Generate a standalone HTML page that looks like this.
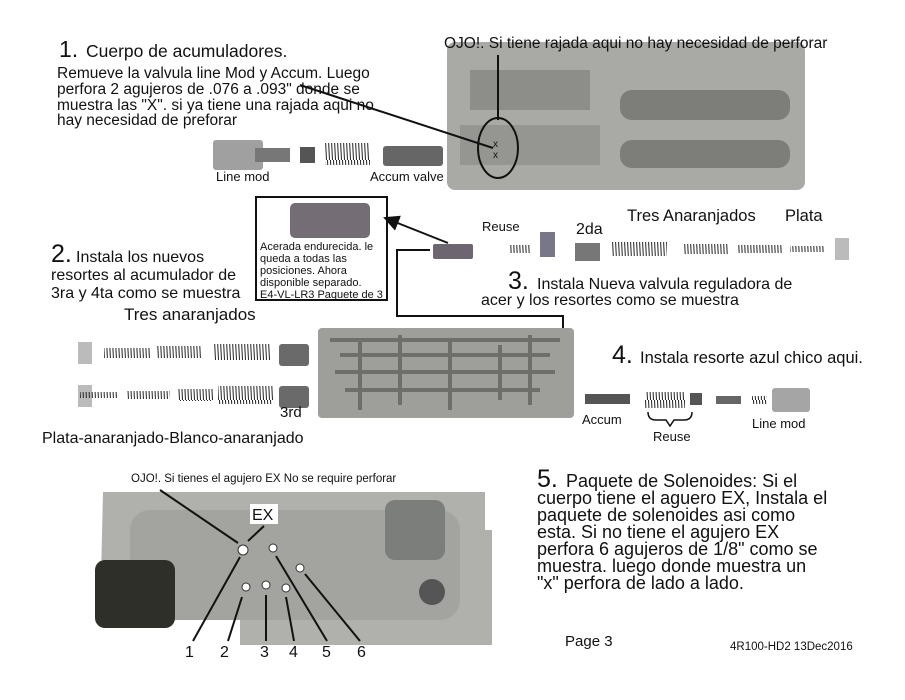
<!DOCTYPE html>
<html><head><meta charset="utf-8"><style>
html,body{margin:0;padding:0;background:#fff}
svg{display:block}
text{font-family:"Liberation Sans",sans-serif;fill:#111}
</style></head><body>
<svg width="905" height="700" viewBox="0 0 905 700">
<defs><marker id="a" markerWidth="8" markerHeight="8" refX="7" refY="4" orient="auto"><path d="M0,0 L8,4 L0,8z" fill="#111"/></marker>
<pattern id="sp" width="3" height="40" patternUnits="userSpaceOnUse"><line x1="0.5" y1="0" x2="2.5" y2="40" stroke="#222" stroke-width="1"/></pattern></defs>
<!-- top plate -->
<rect x="447" y="42" width="358" height="148" rx="8" fill="#a9a9a6"/>
<rect x="470" y="70" width="120" height="40" fill="#8d8d8a"/>
<rect x="620" y="90" width="170" height="30" rx="12" fill="#7d7d7a"/>
<rect x="620" y="140" width="170" height="28" rx="12" fill="#7d7d7a"/>
<rect x="460" y="125" width="140" height="40" fill="#959592"/>
<ellipse cx="498" cy="148" rx="20" ry="30" fill="none" stroke="#111" stroke-width="2"/>
<text x="493" y="147" font-size="10">x</text><text x="493" y="158" font-size="10">x</text>
<line x1="300" y1="85" x2="493" y2="148" stroke="#111" stroke-width="2"/>
<line x1="498" y1="55" x2="498" y2="120" stroke="#111" stroke-width="2"/>
<!-- top parts row -->
<rect x="213" y="140" width="50" height="30" rx="3" fill="#a0a0a0"/>
<rect x="255" y="148" width="35" height="14" fill="#777"/>
<rect x="300" y="147" width="15" height="16" fill="#555"/>
<rect x="325" y="143" width="45" height="22" fill="url(#sp)"/>
<rect x="383" y="146" width="60" height="20" rx="3" fill="#666"/>
<text x="216" y="181" font-size="13">Line mod</text>
<text x="370" y="181" font-size="13">Accum valve</text>
<text x="59" y="57" font-size="23">1.</text><text x="86" y="57" font-size="17.5">Cuerpo de acumuladores.</text>
<g font-size="15.5"><text x="57" y="78">Remueve la valvula line Mod y Accum.  Luego</text>
<text x="57" y="94">perfora 2 agujeros de .076 a .093" donde se</text>
<text x="57" y="110">muestra las "X".  si ya tiene una rajada aqui no</text>
<text x="57" y="125">hay necesidad de preforar</text></g>
<text x="444" y="48" font-size="15.5">OJO!. Si tiene rajada aqui no hay necesidad de perforar</text>
<!-- box -->
<rect x="256" y="197" width="131" height="103" fill="#fff" stroke="#111" stroke-width="2"/>
<rect x="290" y="203" width="80" height="35" rx="5" fill="#756d75"/>
<g font-size="11"><text x="260" y="250">Acerada endurecida. le</text>
<text x="260" y="262">queda a todas las</text>
<text x="260" y="274">posiciones. Ahora</text>
<text x="260" y="286">disponible separado.</text>
<text x="260" y="298">E4-VL-LR3 Paquete de 3</text></g>
<line x1="448" y1="243" x2="385" y2="218" stroke="#111" stroke-width="2" marker-end="url(#a)"/>
<rect x="433" y="244" width="40" height="15" rx="2" fill="#6d6570"/>
<polyline points="430,250 397,250 397,316 563,316 563,362 543,362" fill="none" stroke="#111" stroke-width="2" marker-end="url(#a)"/>
<text x="482" y="231" font-size="13">Reuse</text>
<rect x="510" y="245" width="20" height="8" fill="url(#sp)"/>
<rect x="540" y="232" width="15" height="25" fill="#778"/>
<rect x="575" y="243" width="25" height="18" fill="#777"/>
<text x="576" y="234" font-size="16">2da</text>
<text x="627" y="221" font-size="16.5">Tres Anaranjados</text>
<text x="785" y="221" font-size="16.5">Plata</text>
<rect x="612" y="242" width="55" height="14" fill="url(#sp)"/>
<rect x="683" y="244" width="45" height="10" fill="url(#sp)"/>
<rect x="737" y="245" width="45" height="8" fill="url(#sp)"/>
<rect x="790" y="246" width="35" height="6" fill="url(#sp)"/>
<rect x="835" y="238" width="14" height="22" fill="#bbb"/>
<text x="508" y="289" font-size="25">3.</text><text x="537" y="289" font-size="16">Instala Nueva valvula reguladora de</text>
<text x="481" y="305" font-size="16">acer y los resortes como se muestra</text>
<!-- 2 -->
<text x="51" y="262" font-size="25">2.</text><text x="76" y="262" font-size="16">Instala los nuevos</text>
<text x="51" y="280" font-size="16">resortes al acumulador de</text>
<text x="51" y="298" font-size="16">3ra y 4ta como se muestra</text>
<text x="124" y="320" font-size="17">Tres anaranjados</text>
<rect x="104" y="348" width="46" height="10" fill="url(#sp)"/>
<rect x="157" y="346" width="45" height="12" fill="url(#sp)"/>
<rect x="213" y="344" width="58" height="16" fill="url(#sp)"/>
<rect x="279" y="344" width="30" height="22" rx="3" fill="#6a6a6a"/>
<rect x="78" y="342" width="14" height="22" fill="#bbb"/>
<rect x="78" y="385" width="14" height="22" fill="#bbb"/>
<rect x="80" y="392" width="38" height="6" fill="url(#sp)"/>
<rect x="126" y="391" width="44" height="8" fill="url(#sp)"/>
<rect x="178" y="389" width="35" height="12" fill="url(#sp)"/>
<rect x="218" y="386" width="55" height="18" fill="url(#sp)"/>
<rect x="279" y="386" width="30" height="22" rx="3" fill="#6a6a6a"/>
<text x="280" y="417" font-size="15">3rd</text>
<text x="42" y="443" font-size="16">Plata-anaranjado-Blanco-anaranjado</text>
<!-- middle plate -->
<rect x="318" y="328" width="256" height="90" rx="4" fill="#9e9e9b"/>
<path d="M330,340 H560 M340,355 H550 M335,372 H555 M345,390 H540 M360,340 V410 M400,335 V405 M450,340 V410 M500,345 V400 M530,335 V405" stroke="#6e6e6b" stroke-width="4" fill="none"/>
<text x="612" y="363" font-size="25">4.</text><text x="640" y="363" font-size="16.5">Instala resorte azul chico aqui.</text>
<rect x="585" y="394" width="45" height="10" fill="#555"/>
<text x="582" y="424" font-size="13">Accum</text>
<rect x="645" y="392" width="40" height="16" fill="url(#sp)"/>
<rect x="690" y="393" width="12" height="12" fill="#555"/>
<rect x="716" y="396" width="25" height="8" fill="#666"/>
<rect x="752" y="396" width="15" height="8" fill="url(#sp)"/>
<rect x="772" y="388" width="38" height="24" rx="3" fill="#a5a5a5"/>
<path d="M648,412 q0,8 8,8 h10 l4,6 l4,-6 h10 q8,0 8,-8" fill="none" stroke="#111" stroke-width="1.5"/>
<text x="653" y="441" font-size="13">Reuse</text>
<text x="752" y="428" font-size="13">Line mod</text>
<!-- bottom plate -->
<path d="M103,492 H485 V530 H492 V645 H240 V620 H100 Z" fill="#b0b0ad"/>
<rect x="130" y="510" width="330" height="110" rx="20" fill="#a3a3a0"/>
<rect x="385" y="500" width="60" height="60" rx="10" fill="#7c7e7b"/>
<circle cx="432" cy="592" r="13" fill="#555"/>
<rect x="95" y="560" width="80" height="68" rx="10" fill="#2f2f2a"/>
<g fill="#fff" stroke="#333"><circle cx="243" cy="550" r="5"/><circle cx="273" cy="548" r="4"/><circle cx="300" cy="568" r="4"/><circle cx="246" cy="587" r="4"/><circle cx="266" cy="585" r="4"/><circle cx="286" cy="588" r="4"/></g>
<rect x="250" y="504" width="28" height="20" fill="#fff"/>
<text x="252" y="520" font-size="16">EX</text>
<text x="131" y="482" font-size="11.5">OJO!. Si tienes  el agujero EX No se require perforar</text>
<g stroke="#111" stroke-width="2"><line x1="160" y1="490" x2="238" y2="543"/><line x1="264" y1="526" x2="248" y2="541"/><line x1="240" y1="557" x2="193" y2="641"/><line x1="242" y1="597" x2="228" y2="641"/><line x1="266" y1="595" x2="266" y2="641"/><line x1="286" y1="597" x2="294" y2="641"/><line x1="276" y1="556" x2="327" y2="641"/><line x1="305" y1="574" x2="360" y2="641"/></g>
<g font-size="16"><text x="185" y="657">1</text><text x="220" y="657">2</text><text x="260" y="657">3</text><text x="289" y="657">4</text><text x="322" y="657">5</text><text x="357" y="657">6</text></g>
<text x="537" y="487" font-size="25">5.</text><text x="566" y="487" font-size="18">Paquete de Solenoides: Si el</text>
<g font-size="18"><text x="537" y="504">cuerpo tiene el aguero EX, Instala el</text><text x="537" y="521">paquete de solenoides asi como</text><text x="537" y="538">esta.  Si no tiene el agujero EX</text><text x="537" y="555">perfora 6 agujeros de 1/8" como se</text><text x="537" y="572">muestra.  luego donde muestra un</text><text x="537" y="589">"x" perfora de lado a lado.</text></g>
<text x="565" y="646" font-size="15">Page 3</text>
<text x="730" y="650" font-size="11.5">4R100-HD2 13Dec2016</text>
</svg>
</body></html>
